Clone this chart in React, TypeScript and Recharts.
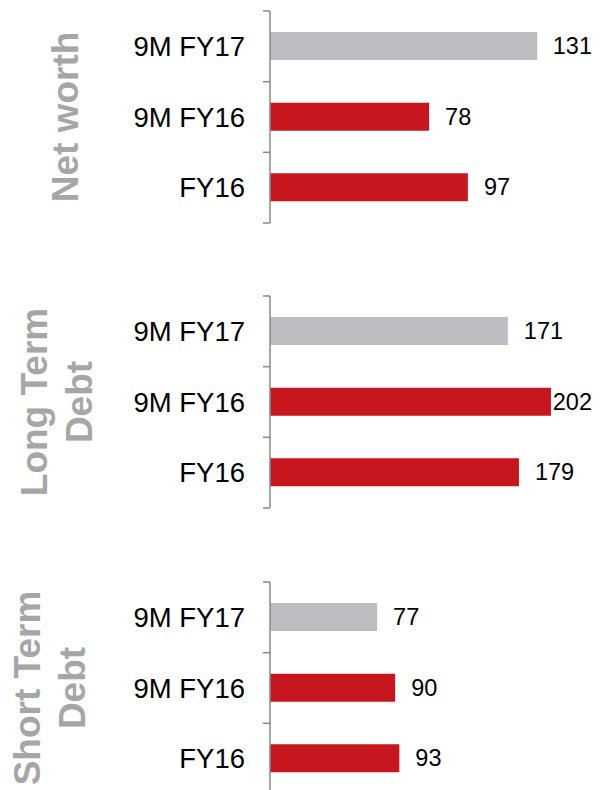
import React from 'react';
import { BarChart, Bar, XAxis, YAxis, Cell, LabelList } from 'recharts';

const categories = ['9M FY17', '9M FY16', 'FY16'];
const netWorth = [131, 78, 97];
const longTermDebt = [171, 202, 179];
const shortTermDebt = [77, 90, 93];
const groupTitles = [['Net worth'], ['Long Term', 'Debt'], ['Short Term', 'Debt']];
const axisMax = [150, 220, 220];

const GREY = '#BCBDC0';
const RED = '#C8161E';
const barColors = [GREY, RED, RED];
const FONT = '"Liberation Sans", Arial, Helvetica, sans-serif';

const CHART_W = 602;
const AXIS_X = 270;
const PLOT_H = 212;
const PAD = 5;
const panelTops = [11, 296, 582];
const titleX = [[65.5], [34, 79], [27.5, 72]];

const series = [netWorth, longTermDebt, shortTermDebt];

const band = PLOT_H / categories.length;

const CategoryTick = (props: any) => {
  const { y, payload, index } = props;
  const last = index === categories.length - 1;
  return (
    <g>
      <line x1={AXIS_X - 7} x2={AXIS_X} y1={y - band / 2} y2={y - band / 2} stroke="#8a8a8a" strokeWidth={1.5} />
      {last && (
        <line x1={AXIS_X - 7} x2={AXIS_X} y1={y + band / 2} y2={y + band / 2} stroke="#8a8a8a" strokeWidth={1.5} />
      )}
      <text x={AXIS_X - 25} y={y} textAnchor="end" dominantBaseline="central" fontSize={27.5} fill="#000" fontFamily={FONT}>
        {payload.value}
      </text>
    </g>
  );
};

const ValueLabel = (props: any) => {
  const { x, y, width, height, value } = props;
  const fs = 23.5;
  const textW = String(value).length * 0.556 * fs;
  const tx = Math.min(x + width + 16, 592 - textW);
  return (
    <text x={tx} y={y + height / 2} dominantBaseline="central" fontSize={fs} fill="#000" fontFamily={FONT}>
      {value}
    </text>
  );
};

function Panel({ idx }: { idx: number }) {
  const data = categories.map((c, i) => ({ name: c, value: series[idx][i] }));
  return (
    <div style={{ position: 'absolute', left: 0, top: panelTops[idx] - PAD }}>
      <BarChart
        width={CHART_W}
        height={PLOT_H + PAD * 2}
        data={data}
        layout="vertical"
        margin={{ top: PAD, bottom: PAD, left: 0, right: CHART_W - AXIS_X - 306 }}
        barCategoryGap={0}
      >
        <XAxis type="number" hide domain={[0, axisMax[idx]]} />
        <YAxis
          type="category"
          dataKey="name"
          width={AXIS_X}
          interval={0}
          tickLine={false}
          axisLine={{ stroke: '#8a8a8a', strokeWidth: 1.5 }}
          tick={<CategoryTick />}
        />
        <Bar dataKey="value" barSize={28} isAnimationActive={false}>
          {data.map((d, i) => (
            <Cell key={d.name} fill={barColors[i]} />
          ))}
          <LabelList dataKey="value" content={<ValueLabel />} />
        </Bar>
      </BarChart>
    </div>
  );
}

export default function App() {
  return (
    <div style={{ position: 'absolute', left: 0, top: 0, width: 602, height: 790, overflow: 'hidden', background: '#fff' }}>
      {[0, 1, 2].map((i) => (
        <Panel key={i} idx={i} />
      ))}
      <svg width={602} height={790} style={{ position: 'absolute', left: 0, top: 0, pointerEvents: 'none' }}>
        {groupTitles.map((lines, i) => {
          const cy = panelTops[i] + PLOT_H / 2;
          return lines.map((line, j) => (
            <text
              key={i + '-' + j}
              transform={`translate(${titleX[i][j]}, ${cy}) rotate(-90)`}
              textAnchor="middle"
              dominantBaseline="central"
              fontSize={37}
              fontWeight="bold"
              fill="#A6A6A6"
              fontFamily={FONT}
            >
              {line}
            </text>
          ));
        })}
      </svg>
    </div>
  );
}
